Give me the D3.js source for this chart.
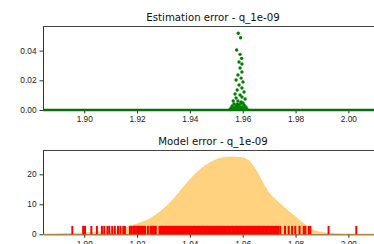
<!DOCTYPE html>
<html lang="en">
<head>
  <meta charset="UTF-8" />
  <title>Estimation / model error</title>
  <script src="https://d3js.org/d3.v7.min.js"></script>
  <style>
    body { margin: 0; background: white; }
    svg { display: block; background: white; font-family: "DejaVu Sans", sans-serif; }
    .axis text { font-size: 8.3px; fill: #1a1a1a; }
    .axis path, .axis line { stroke: #333; }
    .title { font-size: 10.2px; fill: #111; text-anchor: middle; }
  </style>
</head>
<body>
  <svg width="374" height="244"></svg>
  <script>
    // estimation error points: [estimate, error]
    const estX = [1.9583, 1.9592, 1.9577, 1.9590, 1.9596, 1.9586, 1.9597, 1.9590, 1.9597, 1.9582,
                  1.9594, 1.9575, 1.9601, 1.9586, 1.9597, 1.9579, 1.9605, 1.9571, 1.9590, 1.9597,
                  1.9575, 1.9609, 1.9564, 1.9582, 1.9594, 1.9601, 1.9567, 1.9579, 1.9586, 1.9605,
                  1.9560, 1.9575, 1.9590, 1.9597, 1.9612, 1.9556, 1.9567, 1.9582, 1.9594, 1.9605,
                  1.9564, 1.9575, 1.9586, 1.9601, 1.9616, 1.9552, 1.9609, 1.9580, 1.9593, 1.9571];
    const estErr = [0.0517, 0.0487, 0.0404, 0.0375, 0.0348, 0.0323, 0.0310, 0.0283, 0.0256, 0.0236,
                    0.0215, 0.0202, 0.0189, 0.0168, 0.0148, 0.0135, 0.0121, 0.0108, 0.0101, 0.0088,
                    0.0081, 0.0074, 0.0061, 0.0061, 0.0054, 0.0047, 0.0040, 0.0040, 0.0034, 0.0034,
                    0.0027, 0.0027, 0.0020, 0.0020, 0.0020, 0.0013, 0.0013, 0.0013, 0.0010, 0.0013,
                    0.0007, 0.0007, 0.0007, 0.0007, 0.0007, 0.0003, 0.0003, 0.0030, 0.0045, 0.0015];

    // model error density curve
    const kdeX = [1.8844, 1.8946, 1.9059, 1.9135, 1.9184, 1.9249, 1.9287, 1.9336, 1.9388, 1.9438,
                  1.9465, 1.9514, 1.9552, 1.9590, 1.9623, 1.9654, 1.9692, 1.9741, 1.9793, 1.9831,
                  1.9869, 1.9919, 1.9988, 2.0131];
    const kdeY = [0.05, 0.3, 0.8, 1.7, 3.0, 5.2, 7.5, 11.5, 17.0, 21.5,
                  23.3, 25.3, 25.8, 25.6, 24.5, 20.8, 14.7, 10.2, 6.3, 3.5,
                  1.3, 0.4, 0.1, 0.01];

    // model error samples (rug)
    const rugX = [1.8955, 1.8996, 1.9003, 1.9027, 1.9048, 1.9067, 1.9076, 1.9088, 1.9095, 1.9106,
                  1.9116, 1.9128, 1.9137, 1.9148, 1.9154, 1.9173, 1.9179, 1.9186, 1.9192,
                  1.9200, 1.9205, 1.9210, 1.9215, 1.9220, 1.9225, 1.9230, 1.9241, 1.9251, 1.9256,
                  1.9261, 1.9266, 1.9271, 1.9285, 1.9290, 1.9295, 1.9300, 1.9305, 1.9310, 1.9315,
                  1.9320, 1.9325, 1.9330, 1.9335, 1.9340, 1.9345, 1.9350, 1.9355, 1.9360, 1.9365,
                  1.9370, 1.9375, 1.9380, 1.9385, 1.9390, 1.9395, 1.9400, 1.9405, 1.9410, 1.9415,
                  1.9420, 1.9425, 1.9430, 1.9435, 1.9440, 1.9445, 1.9450, 1.9455, 1.9460, 1.9465,
                  1.9470, 1.9475, 1.9480, 1.9485, 1.9490, 1.9495, 1.9500, 1.9505, 1.9510, 1.9515,
                  1.9520, 1.9525, 1.9530, 1.9535, 1.9540, 1.9545, 1.9550, 1.9555, 1.9560, 1.9565,
                  1.9570, 1.9575, 1.9580, 1.9585, 1.9590, 1.9595, 1.9600, 1.9605, 1.9610, 1.9615,
                  1.9620, 1.9625, 1.9630, 1.9635, 1.9640, 1.9645, 1.9650, 1.9655, 1.9660, 1.9665,
                  1.9670, 1.9675, 1.9680, 1.9685, 1.9690, 1.9695, 1.9700, 1.9705, 1.9710, 1.9715,
                  1.9720, 1.9725, 1.9730, 1.9734,
                  1.9742, 1.9760, 1.9774, 1.9787, 1.9799, 1.9815, 1.9831, 1.9837, 1.9850, 1.9856,
                  1.9925, 2.0030];

    const xTicks = [1.90, 1.92, 1.94, 1.96, 1.98, 2.00];
    const estTicks = [0.00, 0.02, 0.04];
    const modelTicks = [0, 10, 20];
    const titles = ["Estimation error - q_1e-09", "Model error - q_1e-09"];

    const svg = d3.select("svg");
    const left = 43, right = 383;

    const x = d3.scaleLinear().domain([1.8844, 2.0131]).range([left, right]);
    const y1 = d3.scaleLinear().domain([0, 0.0566]).range([110, 26]);
    const y2 = d3.scaleLinear().domain([0, 28.1]).range([234.3, 150]);

    svg.append("defs").append("clipPath").attr("id", "clip2")
       .append("rect").attr("x", left).attr("y", 150).attr("width", right - left).attr("height", 85);

    // ---- top panel ----
    svg.append("line")
       .attr("x1", left).attr("x2", right).attr("y1", 26.5).attr("y2", 26.5)
       .attr("stroke", "#444");

    svg.append("g").attr("class", "axis")
       .attr("transform", "translate(0,110)")
       .call(d3.axisBottom(x).tickValues(xTicks).tickFormat(d3.format(".2f")).tickSize(3.5).tickPadding(3))
       .call(g => g.select(".domain").remove());

    svg.append("g").attr("class", "axis")
       .attr("transform", `translate(${left},0)`)
       .call(d3.axisLeft(y1).tickValues(estTicks).tickFormat(d3.format(".2f")).tickSize(3.5).tickPadding(3).tickSizeOuter(0));

    svg.append("line")
       .attr("x1", left).attr("x2", right)
       .attr("y1", y1(0)).attr("y2", y1(0))
       .attr("stroke", "#0a6e0a").attr("stroke-width", 2.6);

    svg.selectAll(".est-dot")
       .data(estX)
       .enter()
       .append("circle")
       .attr("class", "est-dot")
       .attr("cx", d => x(d))
       .attr("cy", (d, i) => y1(estErr[i]))
       .attr("r", 1.7)
       .attr("fill", "#008000");

    svg.append("text").attr("class", "title")
       .attr("x", (left + right) / 2).attr("y", 21)
       .text(titles[0]);

    // ---- bottom panel ----
    svg.append("line")
       .attr("x1", left).attr("x2", right).attr("y1", 150.5).attr("y2", 150.5)
       .attr("stroke", "#444");

    svg.append("g").attr("class", "axis")
       .attr("transform", "translate(0,234.3)")
       .call(d3.axisBottom(x).tickValues(xTicks).tickFormat(d3.format(".2f")).tickSize(3.5).tickPadding(3).tickSizeOuter(0));

    svg.append("g").attr("class", "axis")
       .attr("transform", `translate(${left},0)`)
       .call(d3.axisLeft(y2).tickValues(modelTicks).tickSize(3.5).tickPadding(3).tickSizeOuter(0));

    const area = d3.area()
       .curve(d3.curveMonotoneX)
       .x(d => x(d))
       .y0(y2(0))
       .y1((d, i) => y2(kdeY[i]));

    svg.append("path")
       .datum(kdeX)
       .attr("clip-path", "url(#clip2)")
       .attr("d", area)
       .attr("fill", "#ffa500")
       .attr("fill-opacity", 0.5)
       .attr("stroke", "#ffa500")
       .attr("stroke-opacity", 0.35)
       .attr("stroke-width", 1);

    const rugH = 0.1 * (y2.range()[0] - y2.range()[1]);
    svg.selectAll(".rug")
       .data(rugX)
       .enter()
       .append("line")
       .attr("class", "rug")
       .attr("x1", d => x(d)).attr("x2", d => x(d))
       .attr("y1", y2(0)).attr("y2", y2(0) - rugH)
       .attr("stroke", "red")
       .attr("stroke-width", 2);

    svg.append("text").attr("class", "title")
       .attr("x", (left + right) / 2).attr("y", 145)
       .text(titles[1]);
  </script>
</body>
</html>
